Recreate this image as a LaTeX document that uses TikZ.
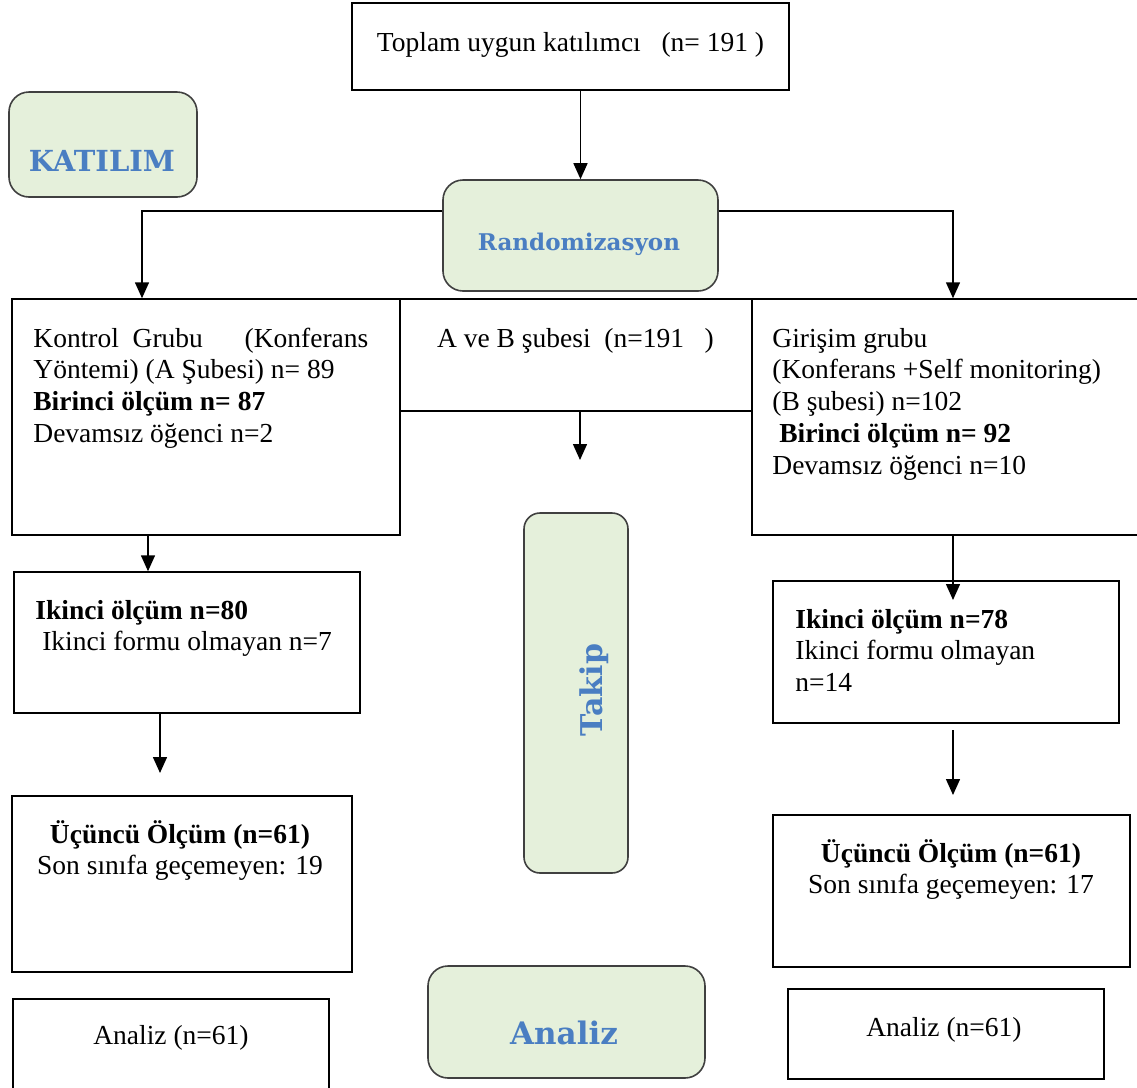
\documentclass[tikz,border=0pt]{standalone}
\usepackage{fontspec}
\setmainfont{Liberation Serif}
\newfontfamily\headfont{DejaVu Serif}
\usetikzlibrary{arrows.meta}
\definecolor{gfill}{RGB}{229,240,219}
\definecolor{hblue}{RGB}{74,126,194}
\definecolor{gborder}{RGB}{64,64,64}
\newcommand{\txtL}[1]{\begin{tabular}[t]{@{}l@{}}#1\end{tabular}}
\newcommand{\txtC}[1]{\begin{tabular}[t]{@{}c@{}}#1\end{tabular}}
\tikzset{
  box/.style={draw=black, line width=0.75pt, inner sep=0pt, rectangle},
  rbox/.style={draw=gborder, fill=gfill, line width=0.8pt, rounded corners=10pt, inner sep=0pt, rectangle},
  head/.style={text=hblue, inner sep=0pt},
  body/.style={inner sep=0pt, font=\fontsize{13.75}{15.9}\selectfont},
  arr/.style={line width=0.75pt, -{Triangle[width=7pt,length=8pt]}},
  ln/.style={line width=0.75pt}
}
\begin{document}
\begin{tikzpicture}[x=0.5pt,y=-0.5pt]
\clip (0,0) rectangle (1137,1088);
\fill[white] (0,0) rectangle (1137,1088);
% boxes
\node[box, minimum width=218.5pt, minimum height=43.5pt] (top) at (570.5,46.5) {};
\node[rbox, minimum width=94pt, minimum height=52.5pt] (katilim) at (103,144.5) {};
\node[rbox, minimum width=137.5pt, minimum height=55.5pt] (rand) at (580.5,235.5) {};
\node[box, minimum width=194pt, minimum height=118pt] (kontrol) at (206,417) {};
\node[box, minimum width=176pt, minimum height=56pt] (ab) at (576,355) {};
\node[box, minimum width=194pt, minimum height=118pt] (girisim) at (946,417) {};
\node[box, minimum width=173pt, minimum height=70.5pt] (ik1) at (187,642.5) {};
\node[box, minimum width=173pt, minimum height=71pt] (ik2) at (946,652) {};
\node[box, minimum width=170pt, minimum height=88pt] (uc1) at (182,884) {};
\node[box, minimum width=178.5pt, minimum height=76pt] (uc2) at (951.5,891) {};
\node[box, minimum width=158pt, minimum height=48pt] (an1) at (171,1047) {};
\node[box, minimum width=158pt, minimum height=45pt] (an2) at (946,1034) {};
\node[rbox, rounded corners=8pt, minimum width=52pt, minimum height=180pt] (takip) at (576,693) {};
\node[rbox, minimum width=138.5pt, minimum height=56pt] (analizR) at (566.5,1022) {};
% headings
\node[head, anchor=base, font=\headfont\bfseries\fontsize{14.5}{14.5}\selectfont] (katT) at (102,171) {KATILIM};
\node[head, anchor=base, font=\headfont\bfseries\fontsize{11.5}{11.5}\selectfont] (randT) at (579,250) {Randomizasyon};
\node[head, anchor=base, rotate=90, font=\headfont\bfseries\fontsize{15}{15}\selectfont] (takT) at (602,690) {Takip};
\node[head, anchor=base, font=\headfont\bfseries\fontsize{15.5}{15.5}\selectfont] (anT) at (564,1044) {Analiz};
% body texts
\node[body, anchor=base] (topT) at (570.5,51) {\txtC{Toplam uygun katılımcı\ \ \ (n= 191 )}};
\node[body, anchor=base west] (kontrolT) at (33,347) {\txtL{\makebox[167.5pt][l]{Kontrol\ \ Grubu\hfill(Konferans}\\ Yöntemi) (A Şubesi) n= 89\\ \textbf{Birinci ölçüm n= 87}\\ Devamsız öğenci n=2}};
\node[body, anchor=base] (abT) at (575.5,347) {\txtC{A ve B şubesi\ \ (n=191\ \ \ )}};
\node[body, anchor=base west] (girisimT) at (772,347) {\txtL{Girişim grubu\\ (Konferans +Self monitoring)\\ (B şubesi) n=102\\ \ \textbf{Birinci ölçüm n= 92}\\ Devamsız öğenci n=10}};
\node[body, anchor=base west] (ik1T) at (35,619) {\txtL{\textbf{Ikinci ölçüm n=80}\\ \ Ikinci formu olmayan n=7}};
\node[body, anchor=base west] (ik2T) at (795,628) {\txtL{\textbf{Ikinci ölçüm n=78}\\ Ikinci formu olmayan\\ n=14}};
\node[body, anchor=base] (uc1T) at (180,843) {\txtC{\textbf{Üçüncü Ölçüm (n=61)}\\ Son sınıfa geçemeyen: 19}};
\node[body, anchor=base] (uc2T) at (951,862) {\txtC{\textbf{Üçüncü Ölçüm (n=61)}\\ Son sınıfa geçemeyen: 17}};
\node[body, anchor=base] (an1T) at (171,1044) {Analiz (n=61)};
\node[body, anchor=base] (an2T) at (944,1036) {Analiz (n=61)};
% free ends
\coordinate (abEnd) at (580,460);
\coordinate (ik1End) at (160,773);
\coordinate (girEnd) at (953,600);
\coordinate (ik2Start) at (953,730);
\coordinate (ik2End) at (953,795);
% connectors
\draw[arr] (top.south -| rand.north) -- (rand.north);
\draw[arr] ([yshift=12.25pt]rand.west) -| ([xshift=-32pt]kontrol.north);
\draw[arr] ([yshift=12.25pt]rand.east) -| ([xshift=3.5pt]girisim.north);
\draw[arr] ([xshift=2pt]ab.south) -- (abEnd);
\draw[arr] ([xshift=-29pt]kontrol.south) -- ([xshift=-19.5pt]ik1.north);
\draw[arr] ([xshift=-13.5pt]ik1.south) -- (ik1End);
\draw[arr] ([xshift=3.5pt]girisim.south) -- (girEnd);
\draw[arr] (ik2Start) -- (ik2End);
\end{tikzpicture}
\end{document}
